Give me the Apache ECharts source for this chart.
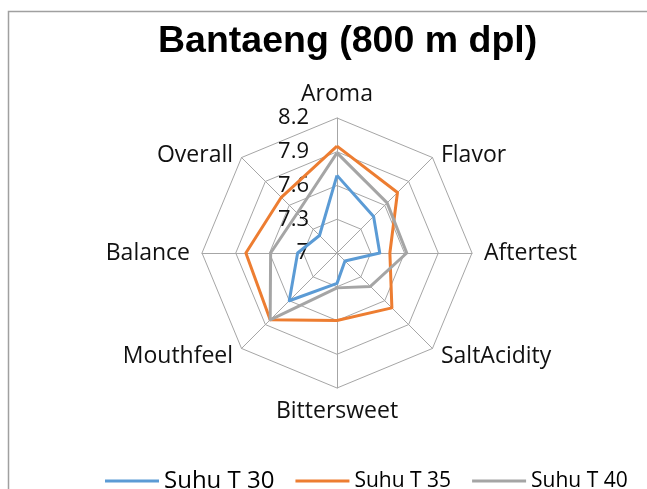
<!DOCTYPE html>
<html>
<head>
<meta charset="utf-8">
<script src="https://cdn.jsdelivr.net/npm/echarts@6/dist/echarts.min.js"></script>
<style>
  html, body { margin: 0; padding: 0; background: #fff; }
  #chart { width: 647px; height: 489px; }
</style>
</head>
<body>
<div id="chart"></div>
<script>
// attributes, clockwise from the top
var categories = ['Aroma', 'Flavor', 'Aftertest', 'SaltAcidity', 'Bittersweet', 'Mouthfeel', 'Balance', 'Overall'];
var seriesNames = ['Suhu T 30', 'Suhu T 35', 'Suhu T 40'];
var t30 = [7.69, 7.46, 7.38, 7.10, 7.27, 7.60, 7.35, 7.22];
var t35 = [7.95, 7.76, 7.47, 7.69, 7.60, 7.84, 7.81, 7.70];
var t40 = [7.89, 7.63, 7.62, 7.42, 7.31, 7.84, 7.59, 7.50];
var colors = ['#5B9BD5', '#ED7D31', '#A5A5A5'];
var axisMin = 7, axisMax = 8.2;

// echarts radar goes counter-clockwise, so flip the order after the first one
var order = [0, 7, 6, 5, 4, 3, 2, 1];
function reorder(arr) { return order.map(function (i) { return arr[i]; }); }

var indicator = reorder(categories).map(function (name, k) {
    var ind = { name: name, min: axisMin, max: axisMax };
    if (k === 0) {
        ind.axisLabel = { show: true };   // tick values only on Aroma axis
    }
    return ind;
});

var allData = [t30, t35, t40];
var labelFont = { color: '#111', fontFamily: 'Open Sans', fontSize: 23 };

var myChart = echarts.init(document.getElementById('chart'));
var option = {
    backgroundColor: '#fff',
    animation: false,
    title: {
        text: 'Bantaeng (800 m dpl)',
        left: 158,
        top: 23,
        padding: 0,
        textStyle: {
            fontFamily: 'Liberation Sans',
            fontWeight: 'bold',
            fontSize: 37.5,
            color: '#000'
        }
    },
    graphic: [{
        type: 'rect',
        shape: { x: 8.5, y: 11.5, width: 700, height: 600 },
        style: { fill: 'none', stroke: '#a0a0a0', lineWidth: 1.5 },
        silent: true
    }],
    legend: {
        left: 100,
        top: 464,
        itemWidth: 54,
        itemHeight: 3,
        itemGap: 21,
        icon: 'rect',
        data: [
            { name: seriesNames[0], textStyle: { fontSize: 24 } },
            { name: seriesNames[1], textStyle: { fontSize: 21 } },
            { name: seriesNames[2], textStyle: { fontSize: 21 } }
        ],
        textStyle: { fontFamily: 'Open Sans', color: '#000' }
    },
    radar: {
        center: [337, 253],
        radius: 135,
        startAngle: 90,
        shape: 'polygon',
        splitNumber: 4,
        indicator: indicator,
        nameGap: 12,
        axisName: {
            color: labelFont.color,
            fontFamily: labelFont.fontFamily,
            fontSize: labelFont.fontSize,
            // upper diagonal names sit a bit lower in the original
            formatter: function (name) {
                return (name === 'Flavor' || name === 'Overall') ? '{dn|' + name + '}' : name;
            },
            rich: {
                dn: {
                    color: labelFont.color,
                    fontFamily: labelFont.fontFamily,
                    fontSize: labelFont.fontSize,
                    padding: [12, 0, 0, 0]
                }
            }
        },
        axisLine: { lineStyle: { color: '#a6a6a6', width: 1 } },
        splitLine: { lineStyle: { color: '#a6a6a6', width: 1 } },
        splitArea: { show: false },
        axisTick: { show: false },
        axisLabel: {
            show: false,
            margin: 28,
            color: labelFont.color,
            fontFamily: labelFont.fontFamily,
            fontSize: 22,
            formatter: function (v) { return String(+(+v).toFixed(1)); }
        }
    },
    series: [{
        type: 'radar',
        symbol: 'none',
        data: allData.map(function (vals, i) {
            return {
                name: seriesNames[i],
                value: reorder(vals),
                lineStyle: { color: colors[i], width: 3 },
                itemStyle: { color: colors[i] }
            };
        })
    }]
};
myChart.setOption(option);
</script>
</body>
</html>
